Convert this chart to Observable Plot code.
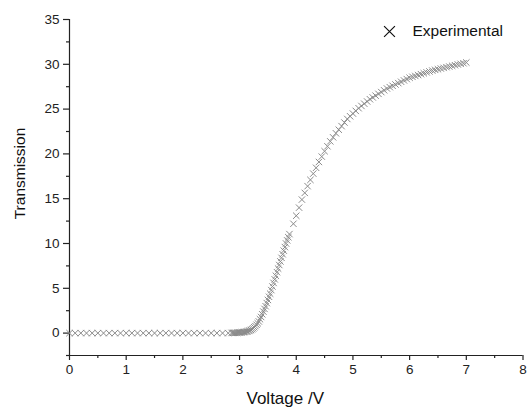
<!DOCTYPE html>
<html>
<head>
<meta charset="utf-8">
<script src="https://cdn.jsdelivr.net/npm/d3@7"></script>
<script src="https://cdn.jsdelivr.net/npm/@observablehq/plot@0.6"></script>
<style>
  html, body { margin: 0; padding: 0; background: #fff; }
  svg { display: block; }
</style>
</head>
<body>
<div id="chart"></div>
<script>
// Voltage (V) readings
const voltage = [
  0.0, 0.1, 0.2, 0.3, 0.4, 0.5, 0.6, 0.7, 0.8, 0.9,
  1.0, 1.1, 1.2, 1.3, 1.4, 1.5, 1.6, 1.7, 1.8, 1.9,
  2.0, 2.1, 2.2, 2.3, 2.4, 2.5, 2.6, 2.7, 2.8,
  2.86, 2.88, 2.90, 2.92, 2.94, 2.96, 2.98, 3.00, 3.02, 3.04,
  3.06, 3.08, 3.10, 3.12, 3.14, 3.16, 3.18, 3.20, 3.22, 3.24,
  3.26, 3.28, 3.30, 3.32, 3.34, 3.36, 3.38, 3.40, 3.42, 3.44,
  3.46, 3.48, 3.50, 3.52, 3.54, 3.56, 3.58, 3.60, 3.62, 3.64,
  3.66, 3.68, 3.70, 3.72, 3.74, 3.76, 3.78, 3.80, 3.82, 3.84,
  3.86, 3.88,
  3.95, 4.00, 4.05, 4.10, 4.15, 4.20, 4.25, 4.30, 4.35, 4.40,
  4.45, 4.50, 4.55, 4.60, 4.65, 4.70, 4.75, 4.80, 4.85, 4.90,
  4.95, 5.00, 5.05, 5.10, 5.15, 5.20, 5.25, 5.30, 5.35, 5.40,
  5.45, 5.50, 5.55, 5.60, 5.65, 5.70, 5.75, 5.80, 5.85, 5.90,
  5.95, 6.00, 6.05, 6.10, 6.15, 6.20, 6.25, 6.30, 6.35, 6.40,
  6.45, 6.50, 6.55, 6.60, 6.65, 6.70, 6.75, 6.80, 6.85, 6.90,
  6.95, 7.00
];
// Transmission readings
const transmission = [
  0, 0, 0, 0, 0, 0, 0, 0, 0, 0,
  0, 0, 0, 0, 0, 0, 0, 0, 0, 0,
  0, 0, 0, 0, 0, 0, 0, 0, 0,
  0.02, 0.02, 0.03, 0.03, 0.04, 0.04, 0.05, 0.06, 0.07, 0.08,
  0.10, 0.12, 0.14, 0.17, 0.20, 0.24, 0.29, 0.35, 0.43, 0.53,
  0.65, 0.78, 0.93, 1.1, 1.3, 1.55, 1.8, 2.1, 2.4, 2.7,
  3.0, 3.35, 3.7, 4.05, 4.4, 4.8, 5.2, 5.6, 6.0, 6.4,
  6.8, 7.2, 7.6, 8.0, 8.4, 8.8, 9.2, 9.6, 10.0, 10.35,
  10.7, 11.05,
  12.2, 13.1, 14.0, 14.9, 15.65, 16.4, 17.1, 17.8, 18.45, 19.1,
  19.7, 20.3, 20.85, 21.4, 21.85, 22.3, 22.7, 23.1, 23.5, 23.9,
  24.2, 24.5, 24.8, 25.1, 25.35, 25.6, 25.85, 26.1, 26.3, 26.5,
  26.7, 26.9, 27.1, 27.3, 27.45, 27.6, 27.75, 27.9, 28.05, 28.2,
  28.35, 28.5, 28.6, 28.7, 28.8, 28.9, 29.0, 29.1, 29.2, 29.3,
  29.38, 29.45, 29.53, 29.6, 29.68, 29.75, 29.83, 29.9, 29.98, 30.05,
  30.12, 30.2
];

const xMajorTicks = [0, 1, 2, 3, 4, 5, 6, 7, 8];
const xMinorTicks = [0.5, 1.5, 2.5, 3.5, 4.5, 5.5, 6.5, 7.5];
const yMajorTicks = [0, 5, 10, 15, 20, 25, 30, 35];
const yMinorTicks = [-2.5, 2.5, 7.5, 12.5, 17.5, 22.5, 27.5, 32.5];
const xLabel = "Voltage /V";
const yLabel = "Transmission";
const seriesName = "Experimental";

const data = voltage.map((v, i) => ({voltage: v, transmission: transmission[i]}));

const font = "'Liberation Sans', Arial, Helvetica, sans-serif";
const axisColor = "#222";

const chart = Plot.plot({
  width: 528,
  height: 410,
  marginLeft: 69,
  marginRight: 5.5,
  marginTop: 19,
  marginBottom: 55,
  style: {fontFamily: font, background: "#fff", color: axisColor},
  x: {domain: [0, 8]},
  y: {domain: [-2.5, 35]},
  marks: [
    // axis lines
    Plot.ruleX([0], {y1: -2.5, y2: 35, stroke: axisColor, strokeWidth: 1.2}),
    Plot.ruleY([-2.5], {x1: 0, x2: 8, stroke: axisColor, strokeWidth: 1.2}),
    // ticks
    Plot.axisX(xMajorTicks, {tickSize: 5, tickPadding: 4, fontSize: 13.5, stroke: axisColor, fill: axisColor, strokeWidth: 1.2, label: null, anchor: "bottom"}),
    Plot.axisX(xMinorTicks, {tickSize: 3, tickFormat: () => "", stroke: axisColor, strokeWidth: 1.2, label: null, anchor: "bottom"}),
    Plot.axisY(yMajorTicks, {tickSize: 6, tickPadding: 4, fontSize: 13.5, stroke: axisColor, fill: axisColor, strokeWidth: 1.2, label: null, anchor: "left"}),
    Plot.axisY(yMinorTicks, {tickSize: 3, tickFormat: () => "", stroke: axisColor, strokeWidth: 1.2, label: null, anchor: "left"}),
    // axis labels
    Plot.text([xLabel], {text: d => d, frameAnchor: "bottom", lineAnchor: "middle", textAnchor: "middle", dx: -11, dy: 43, fontSize: 17, fill: "#111"}),
    Plot.text([yLabel], {text: d => d, frameAnchor: "left", lineAnchor: "middle", textAnchor: "middle", rotate: -90, dx: -49, dy: -14, fontSize: 15.5, fill: "#111"}),
    // data
    Plot.dot(data, {x: "voltage", y: "transmission", symbol: "times", r: 3, stroke: "#8a8a8a", strokeWidth: 1}),
    // legend
    Plot.dot([seriesName], {frameAnchor: "top-right", dx: -133.5, dy: 12, symbol: "times", r: 5, stroke: "#111", strokeWidth: 1.2}),
    Plot.text([seriesName], {text: d => d, frameAnchor: "top-right", lineAnchor: "middle", dx: -110.5, dy: 12, textAnchor: "start", fontSize: 15.5, fill: "#111"})
  ]
});

document.getElementById("chart").appendChild(chart);
</script>
</body>
</html>
